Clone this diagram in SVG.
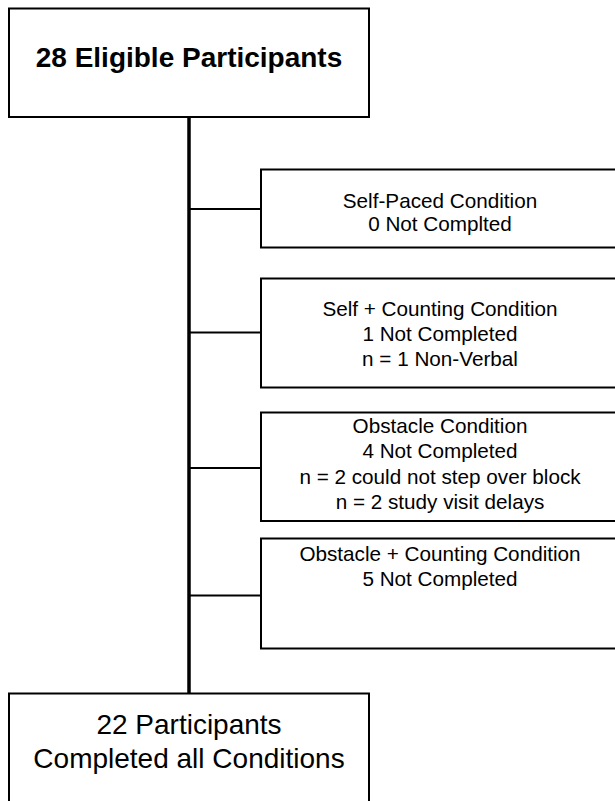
<svg xmlns="http://www.w3.org/2000/svg" width="615" height="801" viewBox="0 0 615 801">
<style>
.box{fill:#fff;stroke:#000;stroke-width:2}
.t{font-family:"Liberation Sans",Arial,sans-serif;fill:#000;text-anchor:middle}
.big{font-size:28px}
.bold{font-weight:bold}
.sm{font-size:20.7px}
.conn{stroke:#000;fill:none}
</style>
<rect x="0" y="0" width="615" height="801" fill="#fff"/>
<g id="connectors">
<line class="conn" x1="189" y1="117" x2="189" y2="693" stroke-width="3.5"/>
<line class="conn" x1="189" y1="209" x2="261" y2="209" stroke-width="2"/>
<line class="conn" x1="189" y1="332.5" x2="261" y2="332.5" stroke-width="2"/>
<line class="conn" x1="189" y1="468" x2="261" y2="468" stroke-width="2"/>
<line class="conn" x1="189" y1="595.5" x2="261" y2="595.5" stroke-width="2"/>
</g>
<g id="eligible">
<rect class="box" x="9" y="8.5" width="360" height="108.5"/>
<text class="t big bold" x="189" y="67">28 Eligible Participants</text>
</g>
<g id="self-paced">
<rect class="box" x="261" y="169.5" width="358" height="78"/>
<text class="t sm" x="440" y="207.5">Self-Paced Condition</text>
<text class="t sm" x="440" y="230.5">0 Not Complted</text>
</g>
<g id="self-counting">
<rect class="box" x="261" y="278.5" width="358" height="109"/>
<text class="t sm" x="440" y="315.7">Self + Counting Condition</text>
<text class="t sm" x="440" y="340.7">1 Not Completed</text>
<text class="t sm" x="440" y="365.7">n = 1 Non-Verbal</text>
</g>
<g id="obstacle">
<rect class="box" x="261" y="412.5" width="358" height="108.5"/>
<text class="t sm" x="440" y="433.3">Obstacle Condition</text>
<text class="t sm" x="440" y="458.3">4 Not Completed</text>
<text class="t sm" x="440" y="483.5">n = 2 could not step over block</text>
<text class="t sm" x="440" y="508.5">n = 2 study visit delays</text>
</g>
<g id="obstacle-counting">
<rect class="box" x="261" y="538.5" width="358" height="110"/>
<text class="t sm" x="440" y="560.7">Obstacle + Counting Condition</text>
<text class="t sm" x="440" y="585.7">5 Not Completed</text>
</g>
<g id="completed">
<rect class="box" x="9" y="693.5" width="360" height="120"/>
<text class="t big" x="189" y="734.3">22 Participants</text>
<text class="t big" x="189" y="768.3">Completed all Conditions</text>
</g>
</svg>
